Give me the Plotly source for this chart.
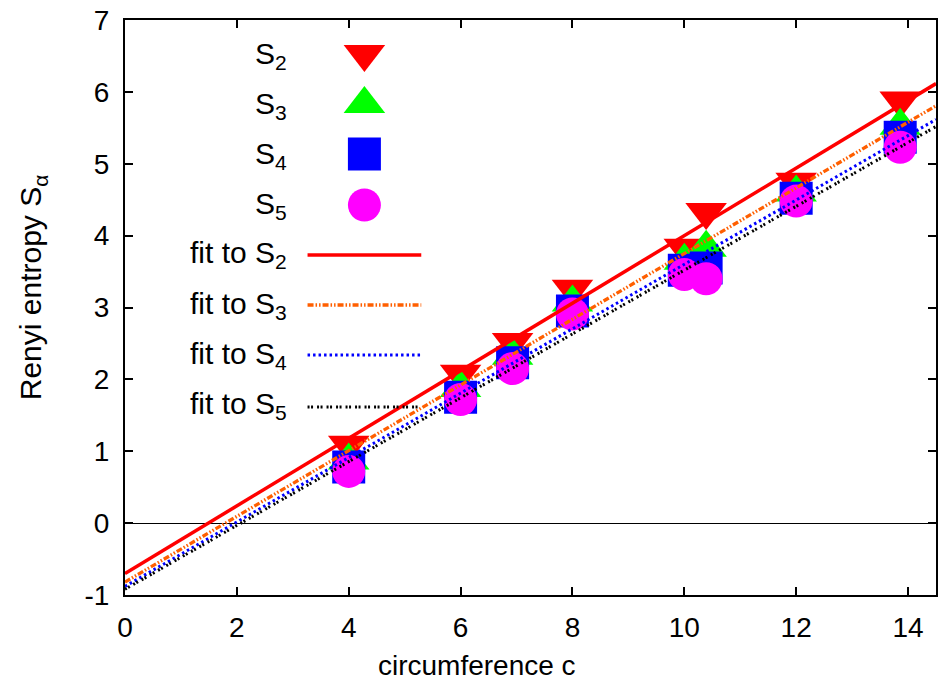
import plotly.graph_objects as go

# Renyi entropies S_alpha versus cylinder circumference c
circumference = [4, 6, 6.93, 8, 10, 10.39, 12, 13.86]
s2 = [1.09, 2.08, 2.52, 3.26, 3.83, 4.33, 4.75, 5.88]
s3 = [0.87, 1.88, 2.33, 3.07, 3.65, 3.83, 4.60, 5.53]
s4 = [0.78, 1.75, 2.23, 2.95, 3.52, 3.55, 4.52, 5.37]
s5 = [0.72, 1.72, 2.15, 2.91, 3.46, 3.40, 4.48, 5.23]

series_labels = ["S<sub>2</sub>", "S<sub>3</sub>", "S<sub>4</sub>", "S<sub>5</sub>"]
series_values = [s2, s3, s4, s5]

# linear fits  S = slope * c + intercept
fit_labels = ["fit to S<sub>2</sub>", "fit to S<sub>3</sub>",
              "fit to S<sub>4</sub>", "fit to S<sub>5</sub>"]
fit_slope = [0.470, 0.457, 0.448, 0.444]
fit_intercept = [-0.70, -0.82, -0.88, -0.92]

x_ticks = [0, 2, 4, 6, 8, 10, 12, 14]
y_ticks = [-1, 0, 1, 2, 3, 4, 5, 6, 7]
y_tick_text = ["-1", "0", "1", "2", "3", "4", "5", "6", "7"]

# styles
marker_colors = ["#ff0000", "#00ff00", "#0000ff", "#ff00ff"]
marker_symbols = ["triangle-down", "triangle-up", "square", "circle"]
marker_sizes = [36, 36, 33, 33]
fit_colors = ["#ff0000", "#ff5f00", "#0000ff", "#000000"]
fit_dashes = ["solid", "6px,2px,1.5px,2px,1.5px,2px", "2.5px,3px", "2px,1.5px,2px,4px"]
fit_widths = [3.5, 3.3, 3, 3]

FONT = "Liberation Sans, Arial, Helvetica, sans-serif"
W, H = 938, 687
ML, MR, MT, MB = 125, 0, 20, 92
PW, PH = W - ML - MR, H - MT - MB
X_RANGE = [0, 14.5]
Y_RANGE = [-1, 7]


def px_x(px):
    return (px - ML) / PW


def px_y(py):
    return (H - MB - py) / PH


fig = go.Figure()

# data points
for lab, vals, col, sym, sz in zip(series_labels, series_values, marker_colors,
                                   marker_symbols, marker_sizes):
    fig.add_trace(go.Scatter(
        x=circumference, y=vals, mode="markers", name=lab, showlegend=False,
        marker=dict(color=col, symbol=sym, size=sz, line=dict(width=0)),
    ))

# fit lines
for lab, a, b, col, dash, lw in zip(fit_labels, fit_slope, fit_intercept,
                                    fit_colors, fit_dashes, fit_widths):
    xs = [X_RANGE[0], X_RANGE[1]]
    fig.add_trace(go.Scatter(
        x=xs, y=[a * x + b for x in xs], mode="lines", name=lab, showlegend=False,
        line=dict(color=col, width=lw, dash=dash),
    ))

# key: labels right-aligned, samples to their right
label_right = 289
marker_cx = 365
line_x0, line_x1 = 308, 422
label_rows = [52, 101, 151, 201, 251, 301, 351, 401]
marker_rows = [54, 104, 154, 205]
line_rows = [255, 305, 355, 407]

annotations = []
for lab, ry in zip(series_labels + fit_labels, label_rows):
    annotations.append(dict(
        text=lab, xref="paper", yref="paper", x=px_x(label_right), y=px_y(ry + 4),
        xanchor="right", yanchor="middle", showarrow=False,
        font=dict(family=FONT, size=30, color="black"),
    ))

for col, sym, sz, ry in zip(marker_colors, marker_symbols, marker_sizes, marker_rows):
    fig.add_trace(go.Scatter(
        x=[px_x(marker_cx)], y=[px_y(ry)], xaxis="x2", yaxis="y2", mode="markers",
        showlegend=False, hoverinfo="skip",
        marker=dict(color=col, symbol=sym, size=sz, line=dict(width=0)),
    ))

shapes = []
for col, dash, lw, ry in zip(fit_colors, fit_dashes, fit_widths, line_rows):
    shapes.append(dict(
        type="line", xref="paper", yref="paper",
        x0=px_x(line_x0), x1=px_x(line_x1), y0=px_y(ry), y1=px_y(ry),
        line=dict(color=col, width=lw, dash=dash),
    ))

# axis titles
annotations.append(dict(
    text="circumference c", xref="paper", yref="paper",
    x=px_x(478), y=px_y(665), xanchor="center", yanchor="middle", showarrow=False,
    font=dict(family=FONT, size=28, color="black"),
))
annotations.append(dict(
    text="Renyi entropy S<sub>α</sub>", xref="paper", yref="paper",
    x=px_x(32), y=px_y(287), xanchor="center", yanchor="middle", showarrow=False,
    textangle=-90, font=dict(family=FONT, size=30, color="black"),
))

axis_common = dict(
    showline=True, linecolor="black", linewidth=2, mirror="ticks",
    ticks="inside", ticklen=8, tickwidth=1.5, tickcolor="black",
    showgrid=False, tickfont=dict(family=FONT, size=28, color="black"),
)

fig.update_layout(
    width=W, height=H,
    margin=dict(l=ML, r=MR, t=MT, b=MB, pad=0),
    paper_bgcolor="white", plot_bgcolor="white",
    showlegend=False,
    xaxis=dict(range=X_RANGE, tickvals=x_ticks, zeroline=False, ticklabelstandoff=6,
               **axis_common),
    yaxis=dict(range=Y_RANGE, tickvals=y_ticks, ticktext=y_tick_text, zeroline=True,
               zerolinecolor="black", zerolinewidth=1.2, ticklabelstandoff=8,
               **axis_common),
    xaxis2=dict(range=[0, 1], overlaying="x", visible=False),
    yaxis2=dict(range=[0, 1], overlaying="y", visible=False),
    annotations=annotations,
    shapes=shapes,
)

fig.write_html("out.html")
